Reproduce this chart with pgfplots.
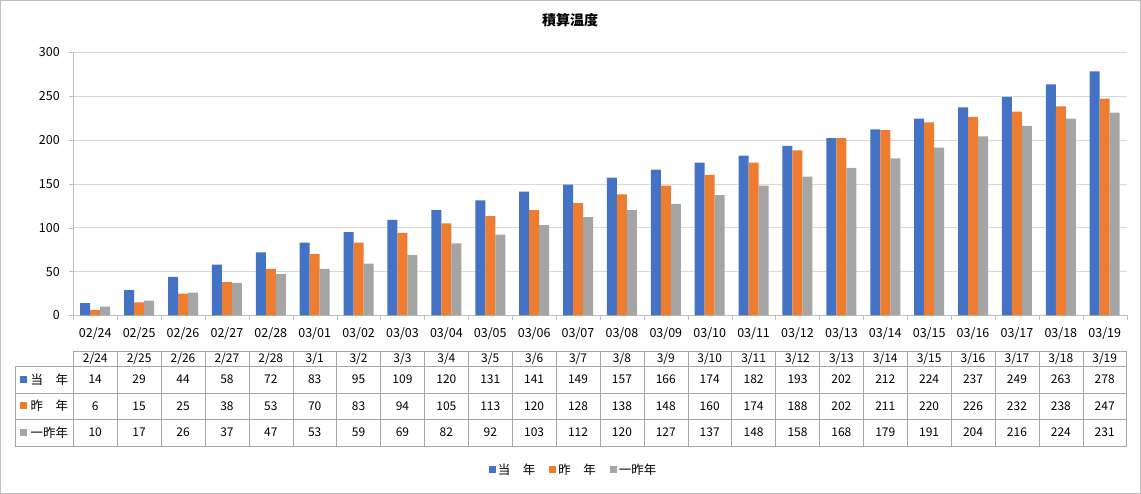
\documentclass[border=0pt]{standalone}
\usepackage{fontspec}
\setmainfont{Noto Sans CJK JP}
\usepackage{pgfplots}
\usepackage{pgfplotstable}
\pgfplotsset{compat=1.18}
\definecolor{cA}{HTML}{4472C4}
\definecolor{cB}{HTML}{ED7D31}
\definecolor{cC}{HTML}{A5A5A5}
\definecolor{gridc}{HTML}{D9D9D9}
\definecolor{axc}{HTML}{BFBFBF}
\definecolor{tabc}{HTML}{A6A6A6}
\pgfplotstableread{
idx lbl hdr a b c
0 02/24 2/24 14 6 10
1 02/25 2/25 29 15 17
2 02/26 2/26 44 25 26
3 02/27 2/27 58 38 37
4 02/28 2/28 72 53 47
5 03/01 3/1 83 70 53
6 03/02 3/2 95 83 59
7 03/03 3/3 109 94 69
8 03/04 3/4 120 105 82
9 03/05 3/5 131 113 92
10 03/06 3/6 141 120 103
11 03/07 3/7 149 128 112
12 03/08 3/8 157 138 120
13 03/09 3/9 166 148 127
14 03/10 3/10 174 160 137
15 03/11 3/11 182 174 148
16 03/12 3/12 193 188 158
17 03/13 3/13 202 202 168
18 03/14 3/14 212 211 179
19 03/15 3/15 224 220 191
20 03/16 3/16 237 226 204
21 03/17 3/17 249 232 216
22 03/18 3/18 263 238 224
23 03/19 3/19 278 247 231
}\data
\begin{document}
\begin{tikzpicture}
\useasboundingbox (0pt,0pt) rectangle (1141pt,494pt);
\draw[axc] (0.5pt,0.5pt) rectangle (1140.5pt,493.5pt);
\node at (570pt,474pt) {\bfseries\fontsize{14}{15}\selectfont 積算温度};
\begin{axis}[
  at={(73.3pt,178.5pt)}, anchor=south west,
  scale only axis, width=1053.4pt, height=263.5pt,
  xmin=-0.5, xmax=23.5, ymin=0, ymax=300,
  ytick={0,50,...,300},
  xtick={0,...,23},
  xticklabels from table={\data}{lbl},
  minor xtick={-0.5,0.5,...,23.5},
  major x tick style={draw=none},
  minor x tick style={draw=axc},
  y tick style={draw=axc},
  axis x line*=bottom, axis y line*=left,
  axis line style={draw=axc,-},
  ymajorgrids, grid style={draw=gridc},
  tick align=outside, major tick length=4pt, minor tick length=5pt,
  ticklabel style={font=\fontsize{12.5}{12.5}\selectfont},
  yticklabel style={xshift=-6pt},
  xticklabel style={yshift=-5pt},
  /pgf/number format/assume math mode=true,
  ybar=0pt, bar width=10pt,
  clip=false,
  legend style={at={(0.475,-0.586)}, anchor=center, draw=none,
    font=\fontsize{12.5}{12.5}\selectfont, legend columns=3,
    /tikz/every even column/.append style={column sep=12pt}},
]
\addplot[fill=cA, draw=none, legend image code/.code={\fill[cA] (0pt,-3.5pt) rectangle (7pt,3.5pt);}] table[x=idx,y=a]{\data};
\addplot[fill=cB, draw=none, legend image code/.code={\fill[cB] (0pt,-3.5pt) rectangle (7pt,3.5pt);}] table[x=idx,y=b]{\data};
\addplot[fill=cC, draw=none, legend image code/.code={\fill[cC] (0pt,-3.5pt) rectangle (7pt,3.5pt);}] table[x=idx,y=c]{\data};
\legend{当　年,昨　年,一昨年}
\end{axis}
% data table
\foreach \yy in {128,101,75,48} {\draw[tabc] (15pt,\yy pt) -- (1126.7pt,\yy pt);}
\draw[tabc] (73.3pt,143pt) -- (1126.7pt,143pt);
\draw[tabc] (15pt,48pt) -- (15pt,128pt);
\foreach \k in {0,...,24} {\pgfmathsetmacro\xx{73.3+43.89*\k}\draw[tabc] (\xx pt,48pt) -- (\xx pt,143pt);}
\fill[cA] (20pt,111pt) rectangle (27pt,118pt);
\fill[cB] (20pt,84.5pt) rectangle (27pt,91.5pt);
\fill[cC] (20pt,58pt) rectangle (27pt,65pt);
\node[anchor=west,inner sep=0pt,font=\fontsize{12.5}{12.5}\selectfont] at (30.5pt,114.5pt) {当　年};
\node[anchor=west,inner sep=0pt,font=\fontsize{12.5}{12.5}\selectfont] at (30.5pt,88pt) {昨　年};
\node[anchor=west,inner sep=0pt,font=\fontsize{12.5}{12.5}\selectfont] at (30.5pt,61.5pt) {一昨年};
\foreach \i in {0,...,23} {
  \pgfplotstablegetelem{\i}{hdr}\of\data \let\h\pgfplotsretval
  \pgfplotstablegetelem{\i}{a}\of\data \let\va\pgfplotsretval
  \pgfplotstablegetelem{\i}{b}\of\data \let\vb\pgfplotsretval
  \pgfplotstablegetelem{\i}{c}\of\data \let\vc\pgfplotsretval
  \pgfmathsetmacro\xx{73.3+43.89*(\i+0.5)}
  \node[font=\fontsize{12}{12}\selectfont] at (\xx pt,135.5pt) {\h};
  \node[font=\fontsize{12}{12}\selectfont] at (\xx pt,114.5pt) {\va};
  \node[font=\fontsize{12}{12}\selectfont] at (\xx pt,88pt) {\vb};
  \node[font=\fontsize{12}{12}\selectfont] at (\xx pt,61.5pt) {\vc};
}
\end{tikzpicture}
\end{document}
